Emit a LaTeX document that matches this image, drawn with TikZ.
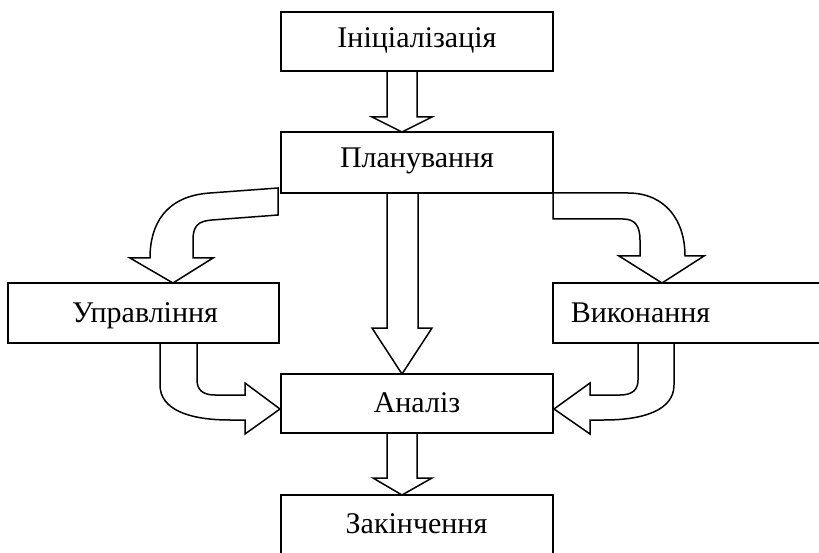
\documentclass[tikz,border=0pt]{standalone}
\usepackage{fontspec}
\setmainfont{Liberation Serif}
\begin{document}
\begin{tikzpicture}[x=1pt,y=-1pt,
  box/.style={draw, line width=1.5pt, inner sep=0pt, outer sep=0pt},
  lbl/.style={anchor=base, inner sep=0pt, font=\fontsize{30}{36}\selectfont},
  barrow/.style={draw, fill=white, line width=1.5pt, line join=miter}]
\useasboundingbox (0,0) rectangle (819,553);
\clip (0,0) rectangle (819,553);
% straight block arrows
\draw[barrow] (387,71) -- (387,117) -- (372,117) -- (402,132) -- (432,117) -- (417,117) -- (417,71);
\draw[barrow] (387,193) -- (387,328) -- (372,328) -- (402,374) -- (432,328) -- (418,328) -- (418,193);
\draw[barrow] (387,433) -- (387,478) -- (373,478) -- (402,495) -- (432,478) -- (417,478) -- (417,433);
% curved: plan -> upr
\draw[barrow] (278,188) -- (210,193) .. controls (165,196) and (150,225) .. (150,258)
  -- (130,258) -- (173,283) -- (213,258) -- (193,258) -- (193,240)
  .. controls (193,226) and (198,221) .. (212,220) -- (278,215) -- cycle;
% curved: plan -> vyk
\draw[barrow] (553,193) -- (628,193) .. controls (665,193) and (685,220) .. (685,256)
  -- (704,256) -- (662,283) -- (619,256) -- (640,256) -- (640,240)
  .. controls (640,226) and (635,219) .. (623,219) -- (553,219) -- cycle;
% curved: upr -> anal
\draw[barrow] (160,343) -- (160,385) .. controls (160,410) and (190,420) .. (230,420)
  -- (245,420) -- (245,434) -- (280,409) -- (245,383) -- (245,395) -- (215,395)
  .. controls (203,395) and (197,390) .. (197,380) -- (197,343);
% curved: vyk -> anal
\draw[barrow] (674,343) -- (674,385) .. controls (674,410) and (644,420) .. (604,420)
  -- (590,420) -- (590,434) -- (554,409) -- (590,383) -- (590,395) -- (620,395)
  .. controls (632,395) and (638,390) .. (638,380) -- (638,343);
% boxes
\node[box, minimum width=272pt, minimum height=59pt] (init) at (417,41.5) {};
\node[box, minimum width=272pt, minimum height=61pt] (plan) at (417,162.5) {};
\node[box, minimum width=271pt, minimum height=60pt] (upr) at (143.5,313) {};
\node[box, minimum width=269pt, minimum height=60pt] (vyk) at (687.5,313) {};
\node[box, minimum width=272pt, minimum height=59pt] (anal) at (417,403.5) {};
\node[box, minimum width=272pt, minimum height=80pt] (zak) at (417,535) {};
% labels
\node[lbl] (tinit) at (417,48) {Ініціалізація};
\node[lbl] (tplan) at (417,168) {Планування};
\node[lbl] (tupr) at (145,323) {Управління};
\node[lbl] (tvyk) at (640.5,322) {Виконання};
\node[lbl] (tanal) at (417,412) {Аналіз};
\node[lbl] (tzak) at (416.5,533) {Закінчення};
\end{tikzpicture}
\end{document}
